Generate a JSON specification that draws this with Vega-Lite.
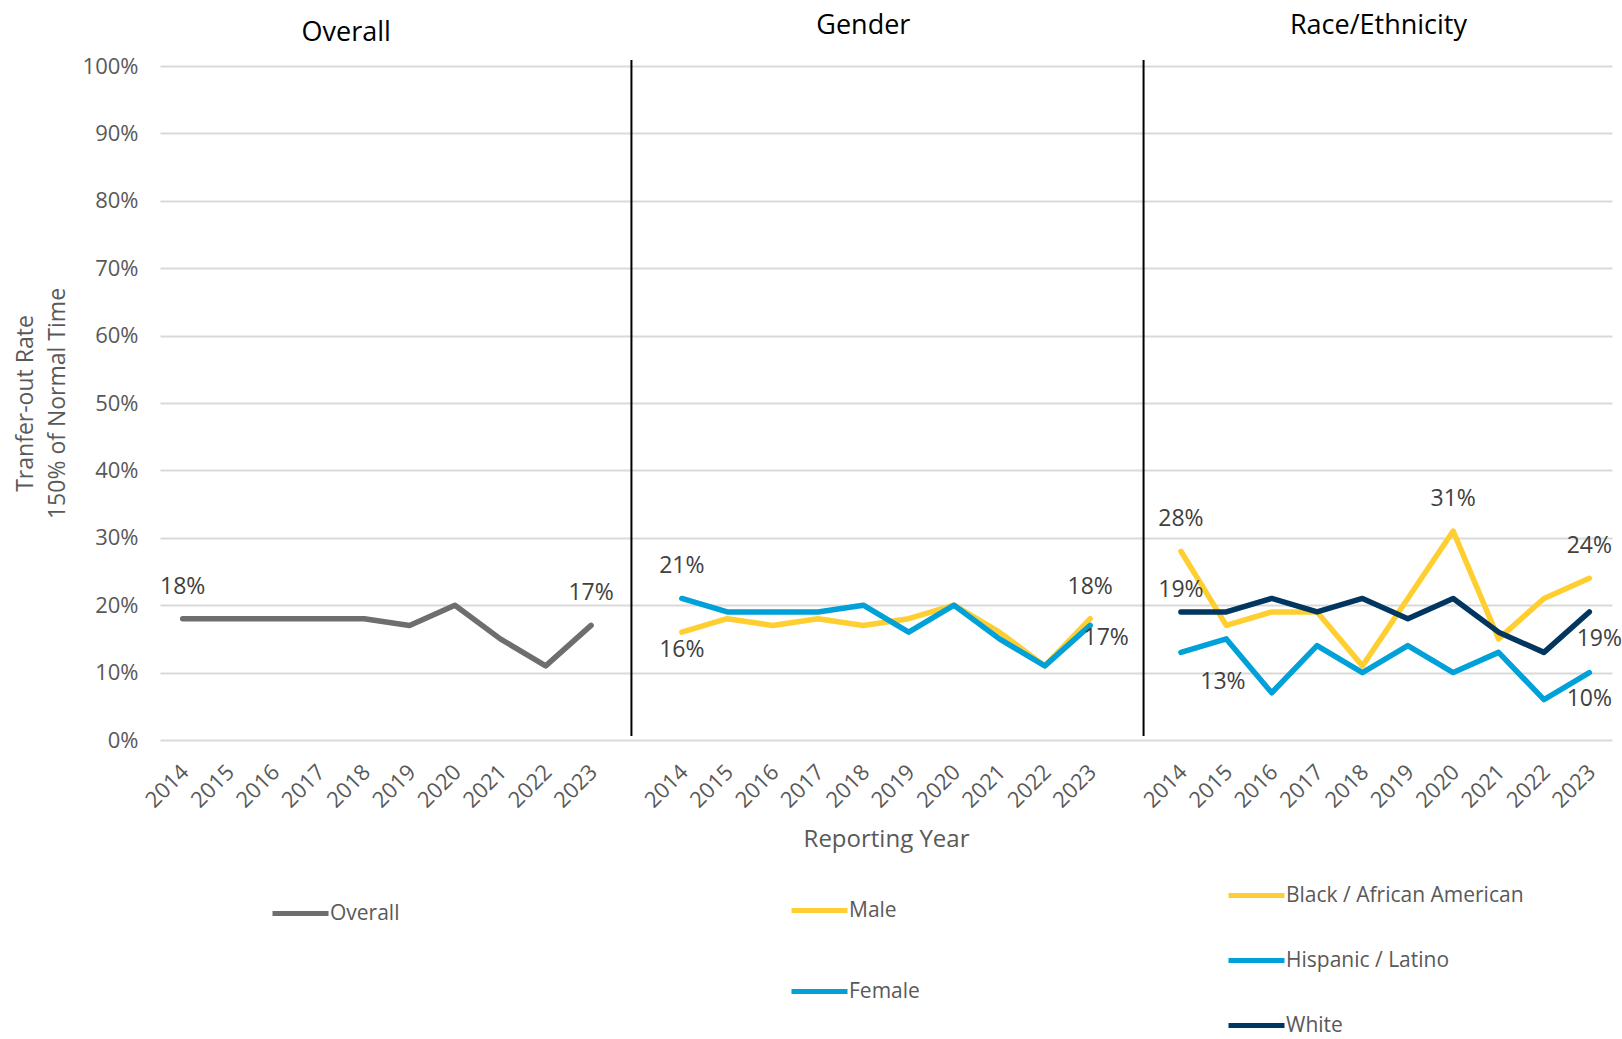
{
  "$schema": "https://vega.github.io/schema/vega-lite/v6.json",
  "width": 1452,
  "height": 674,
  "autosize": {"type": "none"},
  "padding": {"left": 160, "top": 66, "right": 10, "bottom": 299},
  "background": "white",
  "config": {
    "view": {"stroke": null},
    "font": "Open Sans",
    "legend": {"padding": 0}
  },
  "datasets": {
    "rates": [
      {"panel": "Overall", "series": "Overall", "year": 2014, "rate": 0.18},
      {"panel": "Overall", "series": "Overall", "year": 2015, "rate": 0.18},
      {"panel": "Overall", "series": "Overall", "year": 2016, "rate": 0.18},
      {"panel": "Overall", "series": "Overall", "year": 2017, "rate": 0.18},
      {"panel": "Overall", "series": "Overall", "year": 2018, "rate": 0.18},
      {"panel": "Overall", "series": "Overall", "year": 2019, "rate": 0.17},
      {"panel": "Overall", "series": "Overall", "year": 2020, "rate": 0.20},
      {"panel": "Overall", "series": "Overall", "year": 2021, "rate": 0.15},
      {"panel": "Overall", "series": "Overall", "year": 2022, "rate": 0.11},
      {"panel": "Overall", "series": "Overall", "year": 2023, "rate": 0.17},
      {"panel": "Gender", "series": "Male", "year": 2014, "rate": 0.16},
      {"panel": "Gender", "series": "Male", "year": 2015, "rate": 0.18},
      {"panel": "Gender", "series": "Male", "year": 2016, "rate": 0.17},
      {"panel": "Gender", "series": "Male", "year": 2017, "rate": 0.18},
      {"panel": "Gender", "series": "Male", "year": 2018, "rate": 0.17},
      {"panel": "Gender", "series": "Male", "year": 2019, "rate": 0.18},
      {"panel": "Gender", "series": "Male", "year": 2020, "rate": 0.20},
      {"panel": "Gender", "series": "Male", "year": 2021, "rate": 0.16},
      {"panel": "Gender", "series": "Male", "year": 2022, "rate": 0.11},
      {"panel": "Gender", "series": "Male", "year": 2023, "rate": 0.18},
      {"panel": "Gender", "series": "Female", "year": 2014, "rate": 0.21},
      {"panel": "Gender", "series": "Female", "year": 2015, "rate": 0.19},
      {"panel": "Gender", "series": "Female", "year": 2016, "rate": 0.19},
      {"panel": "Gender", "series": "Female", "year": 2017, "rate": 0.19},
      {"panel": "Gender", "series": "Female", "year": 2018, "rate": 0.20},
      {"panel": "Gender", "series": "Female", "year": 2019, "rate": 0.16},
      {"panel": "Gender", "series": "Female", "year": 2020, "rate": 0.20},
      {"panel": "Gender", "series": "Female", "year": 2021, "rate": 0.15},
      {"panel": "Gender", "series": "Female", "year": 2022, "rate": 0.11},
      {"panel": "Gender", "series": "Female", "year": 2023, "rate": 0.17},
      {"panel": "Race/Ethnicity", "series": "Black / African American", "year": 2014, "rate": 0.28},
      {"panel": "Race/Ethnicity", "series": "Black / African American", "year": 2015, "rate": 0.17},
      {"panel": "Race/Ethnicity", "series": "Black / African American", "year": 2016, "rate": 0.19},
      {"panel": "Race/Ethnicity", "series": "Black / African American", "year": 2017, "rate": 0.19},
      {"panel": "Race/Ethnicity", "series": "Black / African American", "year": 2018, "rate": 0.11},
      {"panel": "Race/Ethnicity", "series": "Black / African American", "year": 2019, "rate": 0.21},
      {"panel": "Race/Ethnicity", "series": "Black / African American", "year": 2020, "rate": 0.31},
      {"panel": "Race/Ethnicity", "series": "Black / African American", "year": 2021, "rate": 0.15},
      {"panel": "Race/Ethnicity", "series": "Black / African American", "year": 2022, "rate": 0.21},
      {"panel": "Race/Ethnicity", "series": "Black / African American", "year": 2023, "rate": 0.24},
      {"panel": "Race/Ethnicity", "series": "Hispanic / Latino", "year": 2014, "rate": 0.13},
      {"panel": "Race/Ethnicity", "series": "Hispanic / Latino", "year": 2015, "rate": 0.15},
      {"panel": "Race/Ethnicity", "series": "Hispanic / Latino", "year": 2016, "rate": 0.07},
      {"panel": "Race/Ethnicity", "series": "Hispanic / Latino", "year": 2017, "rate": 0.14},
      {"panel": "Race/Ethnicity", "series": "Hispanic / Latino", "year": 2018, "rate": 0.10},
      {"panel": "Race/Ethnicity", "series": "Hispanic / Latino", "year": 2019, "rate": 0.14},
      {"panel": "Race/Ethnicity", "series": "Hispanic / Latino", "year": 2020, "rate": 0.10},
      {"panel": "Race/Ethnicity", "series": "Hispanic / Latino", "year": 2021, "rate": 0.13},
      {"panel": "Race/Ethnicity", "series": "Hispanic / Latino", "year": 2022, "rate": 0.06},
      {"panel": "Race/Ethnicity", "series": "Hispanic / Latino", "year": 2023, "rate": 0.10},
      {"panel": "Race/Ethnicity", "series": "White", "year": 2014, "rate": 0.19},
      {"panel": "Race/Ethnicity", "series": "White", "year": 2015, "rate": 0.19},
      {"panel": "Race/Ethnicity", "series": "White", "year": 2016, "rate": 0.21},
      {"panel": "Race/Ethnicity", "series": "White", "year": 2017, "rate": 0.19},
      {"panel": "Race/Ethnicity", "series": "White", "year": 2018, "rate": 0.21},
      {"panel": "Race/Ethnicity", "series": "White", "year": 2019, "rate": 0.18},
      {"panel": "Race/Ethnicity", "series": "White", "year": 2020, "rate": 0.21},
      {"panel": "Race/Ethnicity", "series": "White", "year": 2021, "rate": 0.16},
      {"panel": "Race/Ethnicity", "series": "White", "year": 2022, "rate": 0.13},
      {"panel": "Race/Ethnicity", "series": "White", "year": 2023, "rate": 0.19}
    ],
    "one": [{"n": 1}]
  },
  "layer": [
    {
      "data": {"name": "rates"},
      "transform": [
        {"calculate": "substring(datum.panel, 0, 1) + datum.year", "as": "slot"}
      ],
      "encoding": {
        "x": {
          "field": "slot",
          "type": "ordinal",
          "scale": {
            "type": "point",
            "padding": 0.5,
            "domain": ["O2014","O2015","O2016","O2017","O2018","O2019","O2020","O2021","O2022","O2023","gap1",
                       "G2014","G2015","G2016","G2017","G2018","G2019","G2020","G2021","G2022","G2023","gap2",
                       "R2014","R2015","R2016","R2017","R2018","R2019","R2020","R2021","R2022","R2023"]
          },
          "axis": {
            "labelAngle": -45,
            "labelExpr": "indexof(datum.value, 'gap') >= 0 ? '' : substring(datum.value, 1)",
            "labelFontSize": 22,
            "labelColor": "#595959",
            "labelOverlap": false,
            "ticks": false,
            "tickSize": 0,
            "domain": false,
            "grid": false,
            "labelPadding": 21,
            "labelOffset": -5,
            "title": "Reporting Year",
            "titleFontSize": 24,
            "titleColor": "#595959",
            "titleFontWeight": "normal",
            "titlePadding": 16
          }
        },
        "y": {
          "field": "rate",
          "type": "quantitative",
          "scale": {"domain": [0, 1], "nice": false},
          "axis": {
            "values": [0, 0.1, 0.2, 0.3, 0.4, 0.5, 0.6, 0.7, 0.8, 0.9, 1],
            "format": ".0%",
            "labelFontSize": 22,
            "labelColor": "#595959",
            "ticks": false,
            "tickSize": 0,
            "domain": false,
            "grid": true,
            "gridColor": "#D9D9D9",
            "gridWidth": 2,
            "labelPadding": 22,
            "title": ["Tranfer-out  Rate", "150% of Normal Time"],
            "titleFontSize": 23,
            "titleColor": "#595959",
            "titleFontWeight": "normal",
            "titleLineHeight": 32,
            "titlePadding": 13
          }
        }
      },
      "layer": [
        {
          "transform": [{"filter": "datum.panel == 'Overall'"}],
          "mark": {"type": "line", "strokeWidth": 5.5, "strokeJoin": "round", "strokeCap": "round"},
          "encoding": {
            "color": {
              "field": "series", "type": "nominal",
              "scale": {"domain": ["Overall"], "range": ["#6E6E6E"]},
              "legend": {
                "orient": "none", "legendX": 110, "legendY": 817, "title": null,
                "symbolType": "stroke", "symbolSize": 3136, "symbolStrokeWidth": 5,
                "labelFontSize": 21, "labelColor": "#595959", "labelOffset": -1, "labelLimit": 400,
                "rowPadding": 40
              }
            }
          }
        },
        {
          "transform": [{"filter": "datum.panel == 'Gender'"}],
          "mark": {"type": "line", "strokeWidth": 5.5, "strokeJoin": "round", "strokeCap": "round"},
          "encoding": {
            "color": {
              "field": "series", "type": "nominal",
              "scale": {"domain": ["Male", "Female"], "range": ["#FFCF32", "#00A0D8"]},
              "legend": {
                "orient": "none", "legendX": 629, "legendY": 814, "title": null,
                "symbolType": "stroke", "symbolSize": 3136, "symbolStrokeWidth": 5,
                "labelFontSize": 21, "labelColor": "#595959", "labelOffset": -1, "labelLimit": 400,
                "rowPadding": 40
              }
            }
          }
        },
        {
          "transform": [{"filter": "datum.panel == 'Race/Ethnicity'"}],
          "mark": {"type": "line", "strokeWidth": 5.5, "strokeJoin": "round", "strokeCap": "round"},
          "encoding": {
            "color": {
              "field": "series", "type": "nominal",
              "scale": {"domain": ["Black / African American", "Hispanic / Latino", "White"], "range": ["#FFCF32", "#00A0D8", "#003660"]},
              "legend": {
                "orient": "none", "legendX": 1066, "legendY": 799, "title": null,
                "symbolType": "stroke", "symbolSize": 3136, "symbolStrokeWidth": 5,
                "labelFontSize": 21, "labelColor": "#595959", "labelOffset": -1, "labelLimit": 400,
                "rowPadding": 24
              }
            }
          }
        },
        {
          "transform": [{"filter": "(datum.series == 'Overall' && (datum.year == 2014 || datum.year == 2023)) || (datum.series == 'Female' && datum.year == 2014) || (datum.series == 'Male' && datum.year == 2023) || (datum.series == 'Black / African American' && (datum.year == 2014 || datum.year == 2020 || datum.year == 2023))"}],
          "mark": {"type": "text", "fontSize": 23, "color": "#404040", "dy": -32},
          "encoding": {"text": {"field": "rate", "type": "quantitative", "format": ".0%"}}
        },
        {
          "transform": [{"filter": "datum.series == 'Male' && datum.year == 2014"}],
          "mark": {"type": "text", "fontSize": 23, "color": "#404040", "dy": 18},
          "encoding": {"text": {"field": "rate", "type": "quantitative", "format": ".0%"}}
        },
        {
          "transform": [{"filter": "datum.series == 'Female' && datum.year == 2023"}],
          "mark": {"type": "text", "fontSize": 23, "color": "#404040", "dx": 16, "dy": 13},
          "encoding": {"text": {"field": "rate", "type": "quantitative", "format": ".0%"}}
        },
        {
          "transform": [{"filter": "datum.series == 'White' && datum.year == 2014"}],
          "mark": {"type": "text", "fontSize": 23, "color": "#404040", "dy": -22},
          "encoding": {"text": {"field": "rate", "type": "quantitative", "format": ".0%"}}
        },
        {
          "transform": [{"filter": "datum.series == 'Hispanic / Latino' && datum.year == 2014"}],
          "mark": {"type": "text", "fontSize": 23, "color": "#404040", "dx": 42, "dy": 30},
          "encoding": {"text": {"field": "rate", "type": "quantitative", "format": ".0%"}}
        },
        {
          "transform": [{"filter": "datum.series == 'White' && datum.year == 2023"}],
          "mark": {"type": "text", "fontSize": 23, "color": "#404040", "dx": 10, "dy": 27},
          "encoding": {"text": {"field": "rate", "type": "quantitative", "format": ".0%"}}
        },
        {
          "transform": [{"filter": "datum.series == 'Hispanic / Latino' && datum.year == 2023"}],
          "mark": {"type": "text", "fontSize": 23, "color": "#404040", "dy": 26},
          "encoding": {"text": {"field": "rate", "type": "quantitative", "format": ".0%"}}
        }
      ],
      "resolve": {"scale": {"color": "independent"}, "legend": {"color": "independent"}}
    },
    {
      "data": {"name": "one"},
      "mark": {"type": "rule", "color": "#000000", "strokeWidth": 2, "xOffset": -5},
      "encoding": {
        "x": {"datum": "gap1", "type": "ordinal"},
        "y": {"datum": 1.009, "type": "quantitative"},
        "y2": {"datum": 0.006}
      }
    },
    {
      "data": {"name": "one"},
      "mark": {"type": "rule", "color": "#000000", "strokeWidth": 2, "xOffset": 8},
      "encoding": {
        "x": {"datum": "gap2", "type": "ordinal"},
        "y": {"datum": 1.009, "type": "quantitative"},
        "y2": {"datum": 0.006}
      }
    },
    {
      "data": {"name": "one"},
      "mark": {"type": "text", "fontSize": 27, "color": "#000000", "dx": -18},
      "encoding": {
        "x": {"datum": "O2018", "type": "ordinal"},
        "y": {"datum": 1.049, "type": "quantitative"},
        "text": {"value": "Overall"}
      }
    },
    {
      "data": {"name": "one"},
      "mark": {"type": "text", "fontSize": 27, "color": "#000000"},
      "encoding": {
        "x": {"datum": "G2018", "type": "ordinal"},
        "y": {"datum": 1.060, "type": "quantitative"},
        "text": {"value": "Gender"}
      }
    },
    {
      "data": {"name": "one"},
      "mark": {"type": "text", "fontSize": 27, "color": "#000000", "dx": 16},
      "encoding": {
        "x": {"datum": "R2018", "type": "ordinal"},
        "y": {"datum": 1.060, "type": "quantitative"},
        "text": {"value": "Race/Ethnicity"}
      }
    }
  ],
  "resolve": {"scale": {"color": "independent"}, "legend": {"color": "independent"}}
}
